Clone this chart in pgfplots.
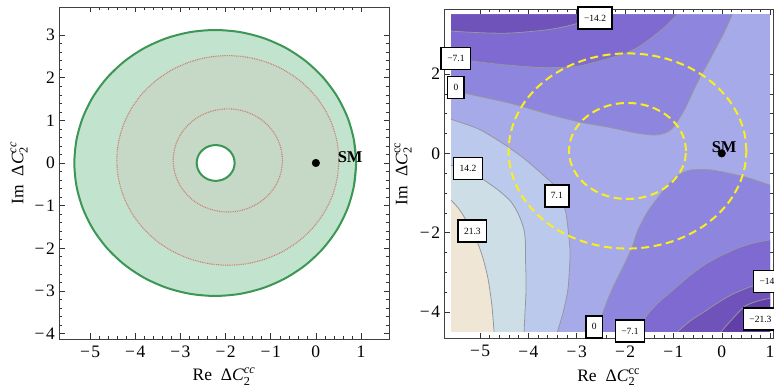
\documentclass[border=0pt]{standalone}
\usepackage{amsmath}
\usepackage{fontspec}
\setmainfont{Liberation Serif}
\usepackage{pgfplots}
\usepackage{pgfplotstable}
\pgfplotsset{compat=1.18}
\definecolor{bandA}{RGB}{98,62,168}
\definecolor{bandB}{RGB}{111,82,186}
\definecolor{bandC}{RGB}{126,106,208}
\definecolor{bandD}{RGB}{142,134,222}
\definecolor{bandE}{RGB}{166,170,232}
\definecolor{bandF}{RGB}{187,202,236}
\definecolor{bandG}{RGB}{206,222,230}
\definecolor{bandH}{RGB}{240,230,214}
\definecolor{cline}{RGB}{150,150,158}
\definecolor{yel}{RGB}{250,238,30}
\definecolor{grnfill}{RGB}{194,228,206}
\definecolor{grnmid}{RGB}{198,216,198}
\definecolor{grnline}{RGB}{60,150,85}
\definecolor{reddot}{RGB}{205,125,115}

% outer boundary of the allowed region (left panel); first and last rows overlap
\pgfplotstableread{
x y
0.8426 -0.5416
0.89 0
0.8426 0.5416
0.7019 1.0670
0.4719 1.56
0.1599 2.0055
-0.2245 2.3899
-0.67 2.7019
-1.163 2.9319
-1.6884 3.0726
-2.23 3.12
-2.7716 3.0726
-3.297 2.9319
-3.79 2.7019
-4.2355 2.3899
-4.6199 2.0055
-4.9319 1.56
-5.1619 1.0670
-5.3026 0.5416
-5.35 0
-5.3026 -0.5416
-5.1619 -1.0670
-4.9319 -1.56
-4.6199 -2.0055
-4.2355 -2.3899
-3.79 -2.7019
-3.297 -2.9319
-2.7716 -3.0726
-2.23 -3.12
-1.6884 -3.0726
-1.163 -2.9319
-0.67 -2.7019
-0.2245 -2.3899
0.1599 -2.0055
0.4719 -1.56
0.7019 -1.0670
0.8426 -0.5416
0.89 0
0.8426 0.5416
}\circOuter

\pgfplotstableread{
x y
-1.8064 -0.0729
-1.80 0
-1.8064 0.0729
-1.8253 0.1436
-1.8563 0.21
-1.8983 0.27
-1.95 0.3217
-2.01 0.3637
-2.0764 0.3947
-2.1471 0.4136
-2.22 0.42
-2.2929 0.4136
-2.3636 0.3947
-2.43 0.3637
-2.49 0.3217
-2.5417 0.27
-2.5837 0.21
-2.6147 0.1436
-2.6336 0.0729
-2.64 0
-2.6336 -0.0729
-2.6147 -0.1436
-2.5837 -0.21
-2.5417 -0.27
-2.49 -0.3217
-2.43 -0.3637
-2.3636 -0.3947
-2.2929 -0.4136
-2.22 -0.42
-2.1471 -0.4136
-2.0764 -0.3947
-2.01 -0.3637
-1.95 -0.3217
-1.8983 -0.27
-1.8563 -0.21
-1.8253 -0.1436
-1.8064 -0.0729
-1.80 0
-1.8064 0.0729
}\circHole

\pgfplotstableread{
x y
0.4726 -0.3671
0.51 0.06
0.4726 0.4871
0.3617 0.9013
0.1804 1.29
-0.0656 1.6413
-0.3687 1.9444
-0.72 2.1904
-1.1087 2.3717
-1.5229 2.4826
-1.95 2.52
-2.3771 2.4826
-2.7913 2.3717
-3.18 2.1904
-3.5313 1.9444
-3.8344 1.6413
-4.0804 1.29
-4.2617 0.9013
-4.3726 0.4871
-4.41 0.06
-4.3726 -0.3671
-4.2617 -0.7813
-4.0804 -1.17
-3.8344 -1.5213
-3.5313 -1.8244
-3.18 -2.0704
-2.7913 -2.2517
-2.3771 -2.3626
-1.95 -2.40
-1.5229 -2.3626
-1.1087 -2.2517
-0.72 -2.0704
-0.3687 -1.8244
-0.0656 -1.5213
0.1804 -1.17
0.3617 -0.7813
0.4726 -0.3671
0.51 0.06
0.4726 0.4871
}\circBig

\pgfplotstableread{
x y
-0.7584 -0.1501
-0.74 0.06
-0.7584 0.2701
-0.813 0.4738
-0.9021 0.665
-1.0231 0.8378
-1.1722 0.9869
-1.345 1.1079
-1.5362 1.197
-1.7399 1.2516
-1.95 1.27
-2.1601 1.2516
-2.3638 1.197
-2.555 1.1079
-2.7278 0.9869
-2.8769 0.8378
-2.9979 0.665
-3.087 0.4738
-3.1416 0.2701
-3.16 0.06
-3.1416 -0.1501
-3.087 -0.3538
-2.9979 -0.545
-2.8769 -0.7178
-2.7278 -0.8669
-2.555 -0.9879
-2.3638 -1.077
-2.1601 -1.1316
-1.95 -1.15
-1.7399 -1.1316
-1.5362 -1.077
-1.345 -0.9879
-1.1722 -0.8669
-1.0231 -0.7178
-0.9021 -0.545
-0.813 -0.3538
-0.7584 -0.1501
-0.74 0.06
-0.7584 0.2701
}\circSmall

\tikzset{clab/.style={draw=black, line width=1.6pt, fill=white, font=\fontsize{9.5}{11}\selectfont, inner xsep=6pt, inner ysep=0pt, minimum height=22pt, anchor=center}}
\newcommand{\mn}{−\kern1.5pt}

\begin{document}
\begin{tikzpicture}
\pgfplotsset{
  myaxis/.style={
    anchor=south west, scale only axis, clip=false,
    major tick length=5.5pt, minor tick length=3pt,
    tick style={black!80, line width=0.5pt},
    axis line style={black!75, line width=0.7pt},
    tick label style={font=\fontsize{17.5}{20}\selectfont, inner sep=0pt},
    xticklabel style={anchor=center, yshift=-13pt},
    yticklabel style={anchor=east, xshift=-4pt},
    label style={font=\fontsize{17.5}{20}\selectfont},
  },
  once/.style={skip coords between index={0}{1}, skip coords between index={38}{39}},
}
% ---------------- left panel
\begin{axis}[myaxis,
  at={(59pt,48pt)}, width=330pt, height=332pt,
  xmin=-5.69, xmax=1.62, ymin=-4.13, ymax=3.66,
  xtick={-5,-4,-3,-2,-1,0,1}, xticklabels={\mn5,\mn4,\mn3,\mn2,\mn1,0,1},
  ytick={-4,-3,-2,-1,0,1,2,3}, yticklabels={\mn4,\mn3,\mn2,\mn1,0,1,2,3},
  minor x tick num=4, minor y tick num=4,
  xlabel={Re\ \ $\text{Δ\textit{C}}_{\text{2}}^{\text{\itshape cc}}$},
  ylabel={Im\ \ $\text{Δ\textit{C}}_{\text{2}}^{\text{\itshape cc}}$},
  x label style={at={(axis description cs:0.5,-0.113)}, anchor=center},
  y label style={at={(axis description cs:-0.121,0.5)}, anchor=center},
]
\addplot[smooth, fill=grnfill, draw=none] table {\circOuter};
\addplot[smooth, fill=grnmid, draw=none] table {\circBig};
\addplot[smooth, once, reddot, line width=1.1pt, dash pattern=on 0.9pt off 0.9pt] table {\circBig};
\addplot[smooth, once, reddot, line width=1.1pt, dash pattern=on 0.9pt off 0.9pt] table {\circSmall};
\addplot[smooth, fill=white, draw=none] table {\circHole};
\addplot[smooth, grnline, line width=2pt] table {\circOuter};
\addplot[smooth, grnline, line width=2pt] table {\circHole};
\addplot[only marks, mark=*, mark size=3.8pt, black] coordinates {(0,0)};
\node[font=\fontsize{16.5}{18}\selectfont\bfseries] at (axis cs:0.76,0.14) {SM};
\end{axis}
% ---------------- right panel
\begin{axis}[myaxis,
  at={(444.3pt,48.7pt)}, width=328.7pt, height=329pt,
  xmin=-5.74, xmax=1.06, ymin=-4.66, ymax=3.63,
  xtick={-5,-4,-3,-2,-1,0,1}, xticklabels={\mn5,\mn4,\mn3,\mn2,\mn1,0,1},
  ytick={-4,-2,0,2}, yticklabels={\mn4,\mn2,0,2},
  minor x tick num=4, minor y tick num=3,
  xlabel={Re\ \ $\text{Δ\textit{C}}_{\text{2}}^{\text{cc}}$},
  ylabel={Im\ \ $\text{Δ\textit{C}}_{\text{2}}^{\text{cc}}$},
  x label style={at={(axis description cs:0.5,-0.118)}, anchor=center},
  y label style={at={(axis description cs:-0.125,0.5)}, anchor=center},
]
% background band 0..7.1
\addplot[fill=bandE, draw=none] coordinates {(-5.6,-4.5) (1,-4.5) (1,3.5) (-5.6,3.5)} --cycle;
% upper negative bands
\addplot[fill=bandD, draw=none] coordinates {(-5.6,1.6) (-5.3,1.51) (-4.8,1.38) (-4.36,1.26) (-3.9,1.1) (-3.5,0.96) (-2.9,0.78) (-2.3,0.65) (-1.8,0.52) (-1.4,0.46) (-1.15,0.52) (-1.0,0.66) (-0.88,0.88) (-0.75,1.15) (-0.5,1.8) (-0.16,2.56) (0.05,3.05) (0.22,3.5) (-5.6,3.5)} --cycle;
\addplot[fill=bandC, draw=none] coordinates {(-5.6,2.40) (-5.2,2.33) (-4.8,2.27) (-4.4,2.22) (-3.7,2.16) (-3.0,2.19) (-2.43,2.36) (-2.0,2.52) (-1.74,2.67) (-1.5,2.87) (-1.26,3.1) (-1.08,3.3) (-0.92,3.5) (-5.6,3.5)} --cycle;
\addplot[fill=bandB, draw=none] coordinates {(-5.6,3.08) (-5.0,3.04) (-4.4,3.03) (-3.7,3.10) (-3.3,3.18) (-3.0,3.27) (-2.75,3.38) (-2.6,3.5) (-5.6,3.5)} --cycle;
% lower negative bands
\addplot[fill=bandD, draw=none] coordinates {(-2.62,-4.5) (-2.5,-4.16) (-2.38,-3.75) (-2.23,-3.32) (-2.02,-2.81) (-1.85,-2.35) (-1.74,-1.95) (-1.55,-1.5) (-1.33,-1.13) (-1.15,-0.85) (-0.98,-0.63) (-0.8,-0.48) (-0.64,-0.42) (-0.3,-0.41) (-0.02,-0.46) (0.5,-0.6) (1.0,-0.8) (1,-4.5)} --cycle;
\addplot[fill=bandC, draw=none] coordinates {(-1.74,-4.5) (-1.54,-4.07) (-1.3,-3.75) (-1.05,-3.49) (-0.7,-3.12) (-0.36,-2.81) (0.0,-2.57) (0.33,-2.39) (0.65,-2.26) (1.0,-2.18) (1,-4.5)} --cycle;
\addplot[fill=bandB, draw=none] coordinates {(-0.92,-4.5) (-0.65,-4.22) (-0.36,-3.99) (-0.1,-3.78) (0.19,-3.57) (0.6,-3.36) (1.0,-3.25) (1,-4.5)} --cycle;
\addplot[fill=bandA, draw=none] coordinates {(-0.02,-4.5) (0.2,-4.2) (0.47,-3.86) (0.75,-3.72) (1.0,-3.65) (1,-4.5)} --cycle;
% positive bands on the left
\addplot[fill=bandF, draw=none] coordinates {(-5.6,0.86) (-5.06,0.63) (-4.75,0.42) (-4.43,0.17) (-4.1,-0.12) (-3.81,-0.42) (-3.6,-0.65) (-3.47,-0.80) (-3.33,-1.1) (-3.23,-1.47) (-3.18,-1.9) (-3.14,-2.4) (-3.14,-2.64) (-3.16,-3.1) (-3.19,-3.49) (-3.28,-4.0) (-3.40,-4.5) (-5.6,-4.5)} --cycle;
\addplot[fill=bandG, draw=none] coordinates {(-5.6,-0.3) (-5.25,-0.42) (-4.92,-0.67) (-4.6,-0.95) (-4.36,-1.22) (-4.2,-1.55) (-4.09,-1.93) (-4.06,-2.3) (-4.06,-2.64) (-4.05,-3.1) (-4.05,-3.49) (-4.07,-4.0) (-4.09,-4.5) (-5.6,-4.5)} --cycle;
\addplot[fill=bandH, draw=none] coordinates {(-5.6,-1.18) (-5.45,-1.38) (-5.33,-1.6) (-5.2,-1.9) (-5.06,-2.23) (-4.95,-2.6) (-4.85,-3.07) (-4.79,-3.5) (-4.75,-3.9) (-4.71,-4.5) (-5.6,-4.5)} --cycle;
% contour lines
\addplot[smooth, cline, line width=0.8pt] coordinates {(-5.6,1.6) (-5.3,1.51) (-4.8,1.38) (-4.36,1.26) (-3.9,1.1) (-3.5,0.96) (-2.9,0.78) (-2.3,0.65) (-1.8,0.52) (-1.4,0.46) (-1.15,0.52) (-1.0,0.66) (-0.88,0.88) (-0.75,1.15) (-0.5,1.8) (-0.16,2.56) (0.05,3.05) (0.22,3.5)};
\addplot[smooth, cline, line width=0.8pt] coordinates {(-5.6,2.40) (-5.2,2.33) (-4.8,2.27) (-4.4,2.22) (-3.7,2.16) (-3.0,2.19) (-2.43,2.36) (-2.0,2.52) (-1.74,2.67) (-1.5,2.87) (-1.26,3.1) (-1.08,3.3) (-0.92,3.5)};
\addplot[smooth, cline, line width=0.8pt] coordinates {(-5.6,3.08) (-5.0,3.04) (-4.4,3.03) (-3.7,3.10) (-3.3,3.18) (-3.0,3.27) (-2.75,3.38) (-2.6,3.5)};
\addplot[smooth, cline, line width=0.8pt] coordinates {(-2.62,-4.5) (-2.5,-4.16) (-2.38,-3.75) (-2.23,-3.32) (-2.02,-2.81) (-1.85,-2.35) (-1.74,-1.95) (-1.55,-1.5) (-1.33,-1.13) (-1.15,-0.85) (-0.98,-0.63) (-0.8,-0.48) (-0.64,-0.42) (-0.3,-0.41) (-0.02,-0.46) (0.5,-0.6) (1.0,-0.8)};
\addplot[smooth, cline, line width=0.8pt] coordinates {(-1.74,-4.5) (-1.54,-4.07) (-1.3,-3.75) (-1.05,-3.49) (-0.7,-3.12) (-0.36,-2.81) (0.0,-2.57) (0.33,-2.39) (0.65,-2.26) (1.0,-2.18)};
\addplot[smooth, cline, line width=0.8pt] coordinates {(-0.92,-4.5) (-0.65,-4.22) (-0.36,-3.99) (-0.1,-3.78) (0.19,-3.57) (0.6,-3.36) (1.0,-3.25)};
\addplot[smooth, cline, line width=0.8pt] coordinates {(-0.02,-4.5) (0.2,-4.2) (0.47,-3.86) (0.75,-3.72) (1.0,-3.65)};
\addplot[smooth, cline, line width=0.8pt] coordinates {(-5.6,0.86) (-5.06,0.63) (-4.75,0.42) (-4.43,0.17) (-4.1,-0.12) (-3.81,-0.42) (-3.6,-0.65) (-3.47,-0.80) (-3.33,-1.1) (-3.23,-1.47) (-3.18,-1.9) (-3.14,-2.4) (-3.14,-2.64) (-3.16,-3.1) (-3.19,-3.49) (-3.28,-4.0) (-3.40,-4.5)};
\addplot[smooth, cline, line width=0.8pt] coordinates {(-5.6,-0.3) (-5.25,-0.42) (-4.92,-0.67) (-4.6,-0.95) (-4.36,-1.22) (-4.2,-1.55) (-4.09,-1.93) (-4.06,-2.3) (-4.06,-2.64) (-4.05,-3.1) (-4.05,-3.49) (-4.07,-4.0) (-4.09,-4.5)};
\addplot[smooth, cline, line width=0.8pt] coordinates {(-5.6,-1.18) (-5.45,-1.38) (-5.33,-1.6) (-5.2,-1.9) (-5.06,-2.23) (-4.95,-2.6) (-4.85,-3.07) (-4.79,-3.5) (-4.75,-3.9) (-4.71,-4.5)};
% yellow circles
\addplot[smooth, once, yel, line width=2pt, dash pattern=on 8pt off 4.5pt] table {\circBig};
\addplot[smooth, once, yel, line width=2pt, dash pattern=on 8pt off 4.5pt] table {\circSmall};
\addplot[only marks, mark=*, mark size=3.8pt, black] coordinates {(0,0)};
\node[font=\fontsize{16.5}{18}\selectfont\bfseries] at (axis cs:0.05,0.15) {SM};
% contour labels
\node[clab] at (axis cs:-2.62,3.41) {−14.2};
\node[clab] at (axis cs:-5.50,2.39) {−7.1};
\node[clab] at (axis cs:-5.50,1.66) {0};
\node[clab] at (axis cs:-5.25,-0.38) {14.2};
\node[clab] at (axis cs:-5.16,-1.96) {21.3};
\node[clab] at (axis cs:-3.41,-1.07) {7.1};
\node[clab] at (axis cs:-2.64,-4.37) {0};
\node[clab] at (axis cs:-1.90,-4.48) {−7.1};
\node[clab] at (axis cs:1.01,-3.23) {−14.2};
\node[clab] at (axis cs:0.80,-4.18) {−21.3};
\end{axis}
\pgfresetboundingbox
\useasboundingbox (0,0) rectangle (774pt,387pt);
\end{tikzpicture}
\end{document}
